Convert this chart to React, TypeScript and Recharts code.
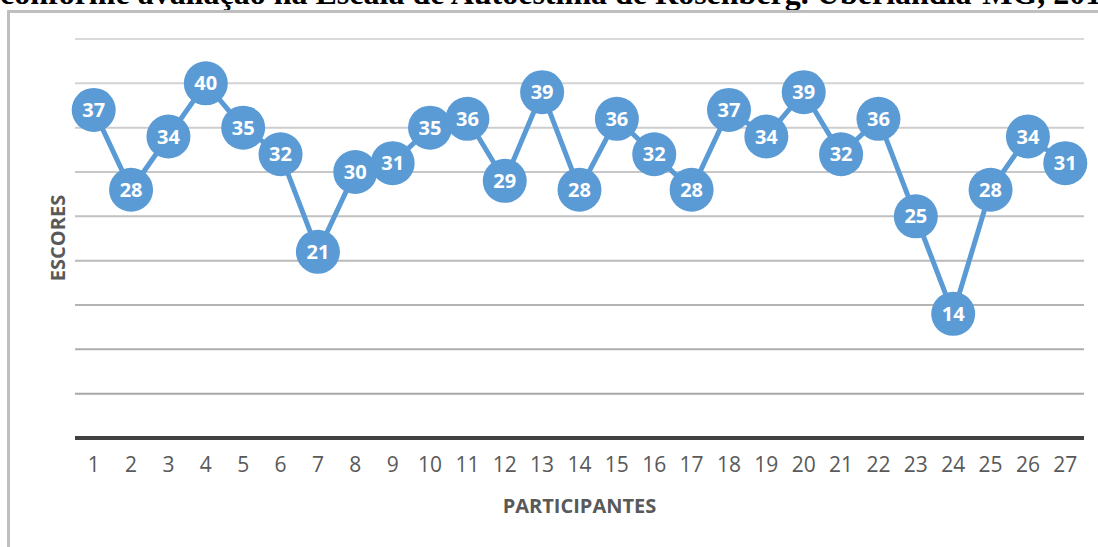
import { LineChart, Line, XAxis, YAxis, ReferenceLine, LabelList } from 'recharts';

const participantes = [
  '1', '2', '3', '4', '5', '6', '7', '8', '9', '10', '11', '12', '13', '14',
  '15', '16', '17', '18', '19', '20', '21', '22', '23', '24', '25', '26', '27',
];
const escores = [
  37, 28, 34, 40, 35, 32, 21, 30, 31, 35, 36, 29, 39, 28,
  36, 32, 28, 37, 34, 39, 32, 36, 25, 14, 28, 34, 31,
];
const yTicks = [5, 10, 15, 20, 25, 30, 35, 40, 45];

const data = participantes.map((p, i) => ({ participante: p, escore: escores[i] }));

const BLUE = '#5b9bd5';
const FONT = '"Open Sans", "Noto Sans", sans-serif';

// grid lines get a bit darker toward the bottom, like in the source image
const gridColor = (i: number) => {
  const v = Math.round(0xd9 - (0xd9 - 0xa8) * ((yTicks.length - 1 - i) / (yTicks.length - 1)));
  return `rgb(${v},${v},${v})`;
};

const Dot = (props: any) => {
  const { cx, cy } = props;
  if (cx == null || cy == null) return null;
  return <circle cx={cx} cy={cy} r={22} fill={BLUE} />;
};

export default function App() {
  return (
    <div style={{ position: 'fixed', left: 0, top: 0, width: 1098, height: 547, background: '#fff', overflow: 'hidden' }}>
      <div
        style={{
          position: 'absolute',
          left: 0,
          top: -23,
          whiteSpace: 'nowrap',
          fontFamily: '"Liberation Serif", "Times New Roman", serif',
          fontWeight: 'bold',
          fontSize: 32,
          lineHeight: 1,
          color: '#000',
        }}
      >
        conforme avaliação na Escala de Autoestima de Rosenberg. Uberlândia-MG, 2018
      </div>
      <div
        style={{
          position: 'absolute',
          left: 7,
          top: 10,
          width: 1200,
          height: 600,
          border: '3px solid #bfbfbf',
        }}
      />
      <div style={{ position: 'absolute', left: 0, top: 0 }}>
        <LineChart width={1098} height={547} data={data} margin={{ top: 39, right: 14, bottom: 79, left: 75 }}>
          <YAxis hide domain={[0, 45]} ticks={[0, ...yTicks]} />
          {yTicks.map((t, i) => (
            <ReferenceLine key={t} y={t} stroke={gridColor(i)} strokeWidth={2} />
          ))}
          <XAxis
            dataKey="participante"
            axisLine={{ stroke: '#404040', strokeWidth: 4 }}
            tickLine={false}
            interval={0}
            padding={{ left: 18.7, right: 18.7 }}
            tickMargin={13}
            tick={{ fill: '#595959', fontSize: 21, fontFamily: FONT }}
          />
          <Line
            dataKey="escore"
            stroke={BLUE}
            strokeWidth={5}
            dot={<Dot />}
            activeDot={false}
            isAnimationActive={false}
          >
            <LabelList
              dataKey="escore"
              position="center"
              fill="#fff"
              fontSize={20}
              fontWeight="bold"
              fontFamily={FONT}
            />
          </Line>
        </LineChart>
      </div>
      <div
        style={{
          position: 'absolute',
          left: 75,
          width: 1009,
          top: 492,
          textAlign: 'center',
          fontFamily: FONT,
          fontWeight: 'bold',
          fontSize: 20,
          color: '#595959',
        }}
      >
        PARTICIPANTES
      </div>
      <div
        style={{
          position: 'absolute',
          left: 57,
          top: 238,
          transform: 'translate(-50%, -50%) rotate(-90deg)',
          whiteSpace: 'nowrap',
          fontFamily: FONT,
          fontWeight: 'bold',
          fontSize: 20,
          color: '#595959',
        }}
      >
        ESCORES
      </div>
    </div>
  );
}
